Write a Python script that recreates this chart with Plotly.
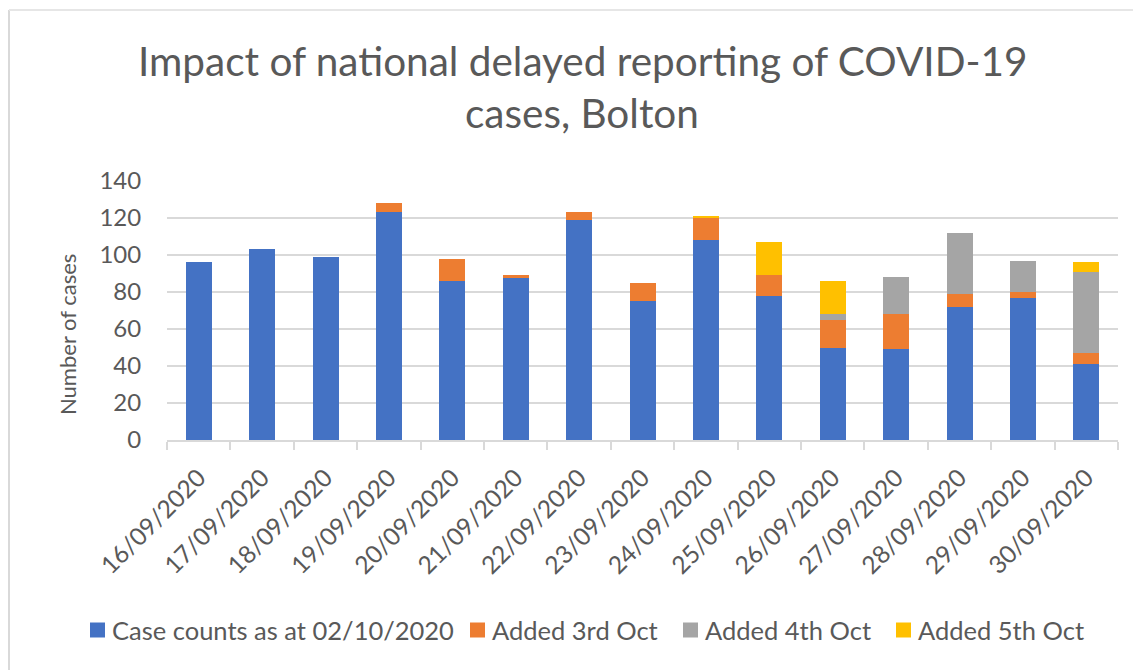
import plotly.graph_objects as go

dates = ["16/09/2020", "17/09/2020", "18/09/2020", "19/09/2020", "20/09/2020",
         "21/09/2020", "22/09/2020", "23/09/2020", "24/09/2020", "25/09/2020",
         "26/09/2020", "27/09/2020", "28/09/2020", "29/09/2020", "30/09/2020"]
base_counts = [96, 103, 99, 123, 86, 88, 119, 75, 108, 78, 50, 49, 72, 77, 41]
added_3rd = [0, 0, 0, 5, 12, 1, 4, 10, 12, 11, 15, 19, 7, 3, 6]
added_4th = [0, 0, 0, 0, 0, 0, 0, 0, 0, 0, 3, 20, 33, 17, 44]
added_5th = [0, 0, 0, 0, 0, 0, 0, 0, 1, 18, 18, 0, 0, 0, 5]

series_names = ["Case counts as at 02/10/2020", "Added 3rd Oct", "Added 4th Oct", "Added 5th Oct"]
series_values = [base_counts, added_3rd, added_4th, added_5th]
colors = ["#4472C4", "#ED7D31", "#A5A5A5", "#FFC000"]
y_ticks = [0, 20, 40, 60, 80, 100, 120, 140]

FONT = "Lato, 'Open Sans', sans-serif"
TXT = "#595959"

OFF = 8  # page body margin
PAGE_W, PAGE_H = 1141, 670
W, H = PAGE_W - OFF, PAGE_H - OFF
# plot area in page pixels: x 167..1118, y 181..440
ML = 167 - OFF
MT = 181 - OFF
MR = PAGE_W - 1118
MB = PAGE_H - 440
PW, PH = W - ML - MR, H - MT - MB

def px_x(p):  # page pixel -> paper x
    return (p - OFF - ML) / PW

def px_y(p):  # page pixel -> paper y
    return (MT + PH - (p - OFF)) / PH

fig = go.Figure()
for name, vals, col in zip(series_names, series_values, colors):
    fig.add_trace(go.Bar(x=dates, y=vals, name=name, marker_color=col,
                         marker_line_width=0, showlegend=False))

fig.update_layout(
    width=W, height=H,
    margin=dict(l=ML, r=MR, t=MT, b=MB, autoexpand=False),
    barmode="stack", bargap=0.59,
    plot_bgcolor="white", paper_bgcolor="white",
    font=dict(family=FONT, color=TXT),
    showlegend=False,
    xaxis=dict(type="category", tickangle=-45, tickfont=dict(size=24.5, color=TXT),
               showline=True, linecolor="#D9D9D9", linewidth=1.5,
               ticks="outside", tickson="boundaries", ticklen=8,
               tickcolor="#D9D9D9", tickwidth=1.5, showgrid=False,
               ticklabelstandoff=12, automargin=False),
    yaxis=dict(range=[0, 140], tickvals=y_ticks, tickfont=dict(size=24, color=TXT),
               showgrid=True, gridcolor="#D9D9D9", gridwidth=1.5,
               zeroline=False, ticks="outside", ticklen=20,
               tickcolor="rgba(0,0,0,0)", automargin=False),
)

# Legend (single row, Excel style) built from the series names/colours
legend_square_left = [90, 470, 683, 896]   # page px
LEG_Y = 630
for name, col, sx in zip(series_names, colors, legend_square_left):
    fig.add_shape(type="rect", xref="paper", yref="paper",
                  x0=px_x(sx), x1=px_x(sx + 15),
                  y0=px_y(LEG_Y - 7.5), y1=px_y(LEG_Y + 7.5),
                  fillcolor=col, line=dict(width=0))
    fig.add_annotation(text=name, xref="paper", yref="paper",
                       x=px_x(sx + 21), y=px_y(LEG_Y), xanchor="left",
                       yanchor="middle", showarrow=False, borderpad=0,
                       font=dict(size=25.5, color=TXT, family=FONT))

fig.add_annotation(text="Impact of national delayed reporting of COVID-19",
                   xref="paper", yref="paper", x=px_x(582), y=px_y(60),
                   xanchor="center", yanchor="middle", showarrow=False,
                   font=dict(size=40.5, color=TXT, family=FONT))
fig.add_annotation(text="cases, Bolton",
                   xref="paper", yref="paper", x=px_x(582), y=px_y(112),
                   xanchor="center", yanchor="middle", showarrow=False,
                   font=dict(size=40.5, color=TXT, family=FONT))
fig.add_annotation(text="Number of cases", textangle=-90,
                   xref="paper", yref="paper", x=px_x(67), y=px_y(335),
                   xanchor="center", yanchor="middle", showarrow=False,
                   font=dict(size=22, color=TXT, family=FONT))

# chart-area border (left and top edges visible)
fig.add_shape(type="line", xref="paper", yref="paper",
              x0=px_x(9), x1=px_x(9), y0=px_y(10), y1=px_y(PAGE_H + 5),
              line=dict(color="#D9D9D9", width=2))
fig.add_shape(type="line", xref="paper", yref="paper",
              x0=px_x(9), x1=px_x(PAGE_W + 5), y0=px_y(10), y1=px_y(10),
              line=dict(color="#E6E6E6", width=2))

fig.write_html("out.html")
